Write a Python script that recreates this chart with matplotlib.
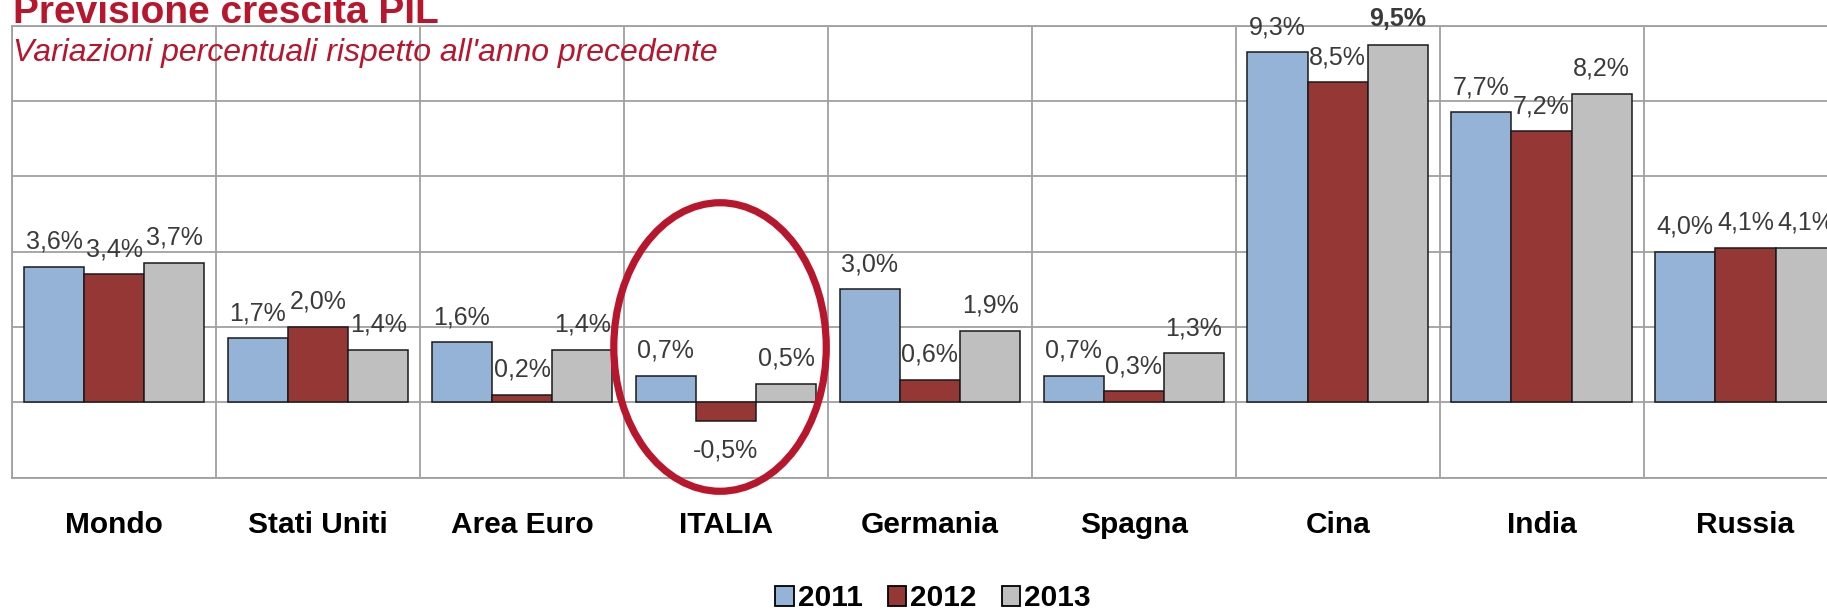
import numpy as np
import matplotlib
matplotlib.use("Agg")
import matplotlib.pyplot as plt
from matplotlib.patches import Ellipse, Patch
from matplotlib import font_manager

# dati
paesi = ["Mondo", "Stati Uniti", "Area Euro", "ITALIA", "Germania", "Spagna", "Cina", "India", "Russia"]
anni = ["2011", "2012", "2013"]
pil_2011 = [3.6, 1.7, 1.6, 0.7, 3.0, 0.7, 9.3, 7.7, 4.0]
pil_2012 = [3.4, 2.0, 0.2, -0.5, 0.6, 0.3, 8.5, 7.2, 4.1]
pil_2013 = [3.7, 1.4, 1.4, 0.5, 1.9, 1.3, 9.5, 8.2, 4.1]

colori = ["#95B3D7", "#953735", "#BFBFBF"]
rosso = "#B8162C"
grigio = "#A0A0A0"

plt.rcParams['font.family'] = ['Liberation Sans', 'DejaVu Sans']

W, H = 1827, 611
fig = plt.figure(figsize=(W / 100, H / 100), dpi=100)
fig.patch.set_facecolor("white")

# area del grafico (in pixel, poi in frazioni)
left_px, top_px, bottom_px = 12.3, 25.7, 477.7
cat_px = 203.9
ax = fig.add_axes([left_px / W, 1 - bottom_px / H, 9 * cat_px / W, (bottom_px - top_px) / H])
ax.set_facecolor("white")

x = np.arange(len(paesi))
w = 0.295
serie = [pil_2011, pil_2012, pil_2013]
for i, vals in enumerate(serie):
    bars = ax.bar(x + (i - 1) * w, vals, w, color=colori[i], edgecolor="#1a1a1a",
                  linewidth=1.1, zorder=3)
    for j, (b, v) in enumerate(zip(bars, vals)):
        cx = b.get_x() + b.get_width() / 2
        lab = ("%.1f%%" % v).replace(".", ",")
        peso = "bold" if (i == 2 and paesi[j] == "Cina") else "normal"
        if v >= 0:
            ax.annotate(lab, (cx, v), xytext=(0, 13), textcoords="offset points",
                        ha="center", va="baseline", fontsize=18, color="#3a3a3a",
                        fontweight=peso, annotation_clip=False, zorder=5)
        else:
            ax.annotate(lab, (cx, v), xytext=(0, -26.3), textcoords="offset points",
                        ha="center", va="baseline", fontsize=18, color="#3a3a3a",
                        annotation_clip=False, zorder=5)

ax.set_xlim(-0.5, 8.5)
ax.set_ylim(-2, 10)
ax.set_yticks(np.arange(-2, 11, 2))
ax.set_xticks(np.arange(-0.5, 9, 1), minor=True)
ax.set_xticks([])
ax.yaxis.grid(True, color=grigio, linewidth=1.3)
ax.xaxis.grid(True, which="minor", color=grigio, linewidth=1.3)
ax.set_axisbelow(True)
ax.tick_params(which="both", length=0, labelleft=False, labelbottom=False)
for s in ax.spines.values():
    s.set_color(grigio)
    s.set_linewidth(1.3)

# etichette categorie
for xi, nome in zip(x, paesi):
    ax.annotate(nome, (xi, 0), xycoords=("data", "axes fraction"), xytext=(0, -55 * 0.72),
                textcoords="offset points", ha="center", va="baseline",
                fontsize=21.5, fontweight="bold", color="black", annotation_clip=False)

# cerchio rosso su ITALIA
ell = Ellipse((2.971, 1.47), 1.042, 7.66, fill=False, edgecolor=rosso, linewidth=5.2,
              zorder=6, clip_on=False)
ax.add_patch(ell)

# titolo e sottotitolo
nomi_font = {f.name for f in font_manager.fontManager.ttflist}
if "Liberation Sans Narrow" in nomi_font:
    fig.text(12.8 / W, 1 - 23 / H, "Previsione crescita PIL", family="Liberation Sans Narrow",
             fontweight="bold", fontsize=34, color=rosso, ha="left", va="baseline")
else:
    fig.text(12.8 / W, 1 - 23 / H, "Previsione crescita PIL", fontweight="bold",
             fontsize=28, color=rosso, ha="left", va="baseline")
fig.text(12.8 / W, 1 - 61 / H, "Variazioni percentuali rispetto all'anno precedente",
         fontstyle="italic", fontsize=23, color=rosso, ha="left", va="baseline")

# legenda
handles = [Patch(facecolor=c, edgecolor="black", linewidth=1.3) for c in colori]
fig.legend(handles, anni, loc="center", bbox_to_anchor=(933 / W, 1 - 598.5 / H), ncol=3,
           frameon=False, prop={"size": 21.5, "weight": "bold"}, handlelength=0.62,
           handleheight=0.62, handletextpad=0.12, columnspacing=0.85, borderpad=0)

fig.savefig("out.png", dpi=100)
